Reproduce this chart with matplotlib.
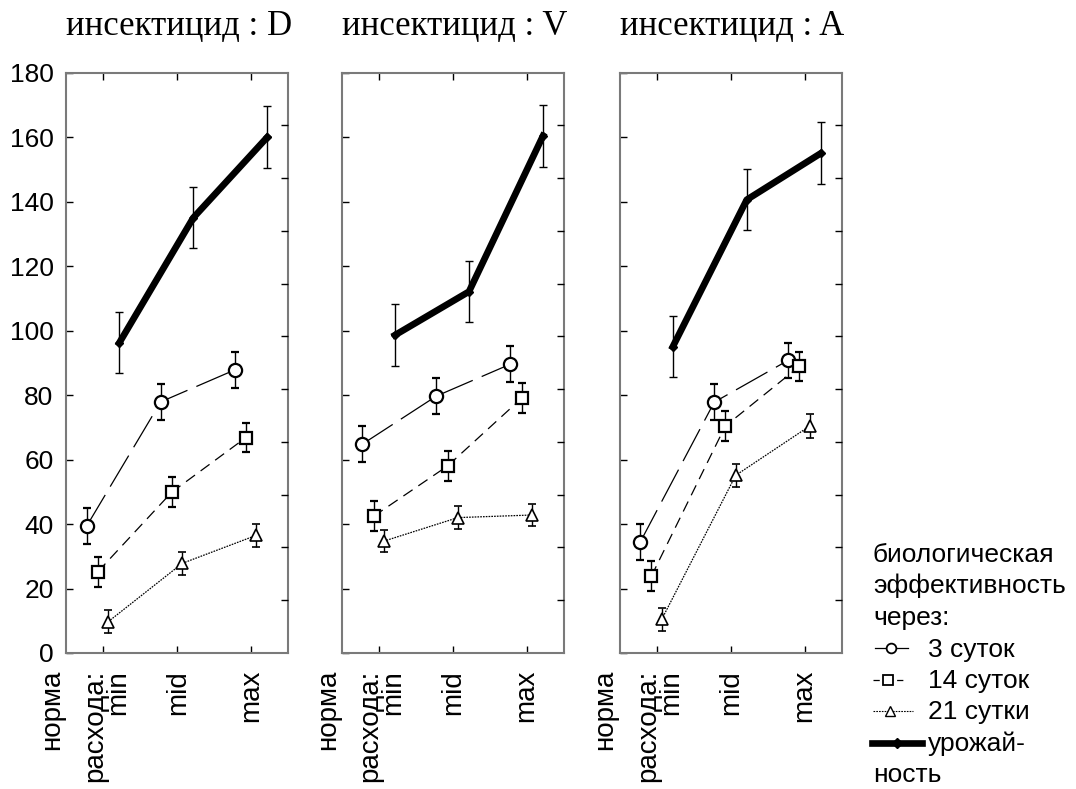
import numpy as np
import matplotlib
matplotlib.use('Agg')
from matplotlib import pyplot as plt
from matplotlib.lines import Line2D

plt.rcParams['font.family'] = ['Liberation Sans', 'DejaVu Sans']
plt.rcParams['lines.scale_dashes'] = False

# data
titles = ['инсектицид : D', 'инсектицид : V', 'инсектицид : A']
doses = ['min', 'mid', 'max']

eff_3 = [[39.4, 77.9, 87.8], [64.8, 79.7, 89.6], [34.4, 77.8, 90.8]]
eff_14 = [[25.2, 49.9, 66.8], [42.4, 58.0, 79.0], [23.8, 70.4, 88.9]]
eff_21 = [[9.7, 27.8, 36.5], [34.7, 42.0, 42.8], [10.4, 55.1, 70.4]]
yld = [[96.2, 135.0, 160.0], [98.6, 112.1, 160.4], [95.0, 140.6, 155.0]]

err_3 = [[5.5, 5.5, 5.5], [5.5, 5.5, 5.5], [5.5, 5.5, 5.5]]
err_14 = [[4.6, 4.6, 4.6], [4.6, 4.6, 4.6], [4.6, 4.6, 4.6]]
err_21 = [[3.5, 3.5, 3.5], [3.5, 3.5, 3.5], [3.5, 3.6, 3.6]]
err_y = [[9.5, 9.5, 9.6], [9.6, 9.5, 9.6], [9.5, 9.5, 9.6]]

legend_head = ['биологическая', 'эффективность', 'через:']
legend_labels = ['3 суток', '14 суток', '21 сутки', 'урожай-']
legend_tail = 'ность'

# styles
spine_col = '#7a7a7a'
series = [
    (eff_3, err_3, -0.22, dict(marker='o', ms=9.5, lw=0.9, dashes=(26, 7), mfc='white', mew=1.6)),
    (eff_14, err_14, -0.07, dict(marker='s', ms=9, lw=0.9, dashes=(8, 5), mfc='white', mew=1.6)),
    (eff_21, err_21, 0.07, dict(marker='^', ms=8.5, lw=0.9, dashes=(1.2, 0.8), mfc='white', mew=1.2)),
    (yld, err_y, 0.22, dict(marker='D', ms=4, lw=4.8, mfc='black', mew=1)),
]

fig = plt.figure(figsize=(10.76, 7.89), dpi=100)
lefts = [66, 341.7, 619.5]
x = np.arange(1, 4)

for i, left in enumerate(lefts):
    ax = fig.add_axes([left / 1076, (789 - 653) / 789, 222 / 1076, 580.3 / 789])
    for vals, errs, off, st in series:
        ax.errorbar(x + off, vals[i], yerr=errs[i], color='black', ecolor='black',
                    elinewidth=1, capsize=3, capthick=1, mec='black', **st)
    ax.set_xlim(0.5, 3.5)
    ax.set_ylim(0, 180)
    ax.set_yticks(np.arange(0, 181, 20))
    ax.set_xticks(x)
    ax.set_xticklabels([])
    ax.tick_params(axis='both', direction='in', length=5, width=1, color='black',
                   labelsize=19, pad=9, top=True, right=False)
    if i > 0:
        ax.set_yticklabels([])
    for s in ax.spines.values():
        s.set_color(spine_col)
        s.set_linewidth(1.5)
    ax.set_title(titles[i], loc='left', fontsize=25, pad=27,
                 family=['Liberation Serif', 'DejaVu Serif'])

    tw = ax.twinx()
    tw.set_ylim(0, 11)
    tw.set_yticks(np.arange(1, 11))
    tw.tick_params(axis='y', direction='in', length=5, width=1, labelright=False)
    for s in tw.spines.values():
        s.set_visible(False)

    # x labels
    tr = ax.get_xaxis_transform()
    ax.text(0.31, -0.029, 'норма', transform=tr, rotation=90, ha='center', va='top',
            fontsize=20, clip_on=False)
    ax.text(0.89, -0.029, 'расхода:', transform=tr, rotation=90, ha='center', va='top',
            fontsize=20, clip_on=False)
    shifts = [0.2, 0.01, 0.0]
    for k, d in enumerate(doses):
        ax.text(x[k] + shifts[k], -0.029, d, transform=tr, rotation=90, ha='center',
                va='top', fontsize=20, clip_on=False)

# legend drawn in pixel space
lg = fig.add_axes([0, 0, 1, 1])
lg.set_xlim(0, 1076)
lg.set_ylim(789, 0)
lg.axis('off')
lg.patch.set_alpha(0)

base = [562 + 31.5 * k for k in range(8)]
for k, t in enumerate(legend_head):
    lg.text(873, base[k], t, fontsize=19, va='baseline', ha='left')

samples = [
    ((875, 908), 891, dict(marker='o', ms=7, lw=0.9, mew=1.3, mfc='white')),
    ((873, 903), 888, dict(marker='s', ms=7, lw=0.9, mew=1.3, mfc='white', dashes=(4.5, 4))),
    ((873, 913), 890, dict(marker='^', ms=7, lw=0.8, mew=1, mfc='white', dashes=(1.2, 0.8))),
    ((872, 922), 897, dict(marker='D', ms=5, lw=4.8)),
]
for k, ((x0, x1), xm, st) in enumerate(samples):
    yy = base[3 + k] - 8.5
    st = dict(st)
    mk = st.pop('marker')
    ms = st.pop('ms')
    mew = st.pop('mew', 1)
    mfc = st.pop('mfc', 'black')
    lg.add_line(Line2D([x0, x1], [yy, yy], color='black', **st))
    lg.add_line(Line2D([xm], [yy], marker=mk, ms=ms, mew=mew, mfc=mfc, mec='black',
                       linestyle='none'))
    lg.text(928, base[3 + k], legend_labels[k], fontsize=19, va='baseline', ha='left')
lg.text(873, base[7], legend_tail, fontsize=19, va='baseline', ha='left')

fig.savefig('out.png', dpi=100)
